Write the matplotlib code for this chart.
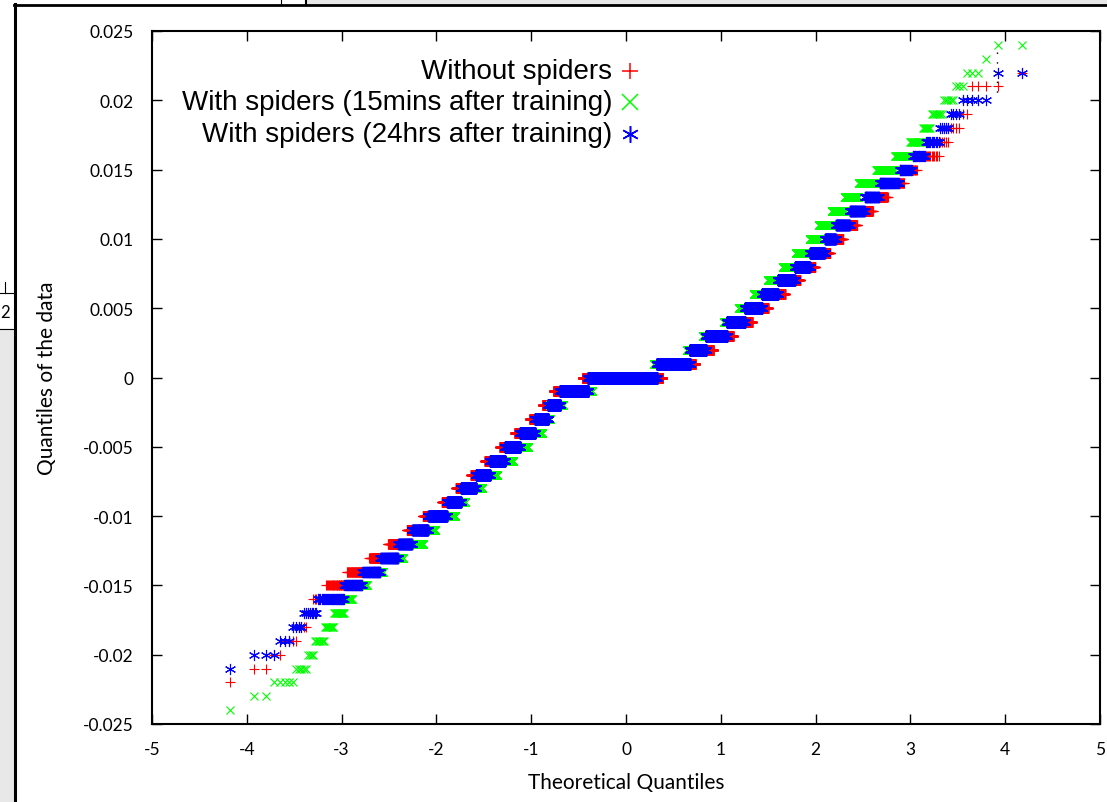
import numpy as np
import matplotlib
matplotlib.use("Agg")
import matplotlib.pyplot as plt
from matplotlib.lines import Line2D
from matplotlib.patches import Rectangle
from statistics import NormalDist

# ---------------- data ----------------
# measured values are quantised to 0.001; counts of observations at each value
levels = np.arange(-24, 25) * 0.001

without_spiders = [0, 0, 1, 2, 2, 4, 4, 3, 10, 28, 61, 90, 150, 194, 340, 351, 495, 593, 797, 983,
                   1183, 1191, 1127, 3444, 10977, 4036, 1836, 1695, 1279, 844, 691, 460, 344, 252,
                   158, 124, 96, 58, 42, 20, 20, 5, 4, 2, 0, 4, 1, 0, 0]
spiders_15min = [1, 2, 5, 5, 4, 8, 10, 15, 17, 41, 70, 141, 231, 198, 465, 309, 669, 762, 1014, 1156,
                 1263, 802, 1421, 3630, 8711, 4213, 1755, 1962, 1156, 957, 728, 620, 421, 351,
                 179, 203, 152, 117, 100, 63, 31, 17, 8, 8, 5, 3, 3, 1, 2]
spiders_24hrs = [0, 0, 0, 1, 3, 3, 4, 8, 31, 42, 69, 114, 133, 217, 379, 387, 540, 643, 858, 1048,
                 1251, 1250, 1287, 3438, 9652, 4149, 1715, 1905, 1314, 986, 723, 582, 380, 280,
                 154, 146, 110, 73, 60, 24, 16, 11, 5, 4, 5, 0, 2, 0, 0]

series_names = ["Without spiders",
                "With spiders (15mins after training)",
                "With spiders (24hrs after training)"]
x_ticks = list(range(-5, 6))
y_tick_labels = ["-0.025", "-0.02", "-0.015", "-0.01", "-0.005", "0",
                 "0.005", "0.01", "0.015", "0.02", "0.025"]

# ---------------- normal QQ computation ----------------
ND = NormalDist()


def qq(counts):
    y = np.repeat(levels, counts)
    n = len(y)
    p = (np.arange(1, n + 1) - 0.5) / n
    x = np.array([ND.inv_cdf(v) for v in p])
    return x, y


# ---------------- figure ----------------
W, H = 1107, 803
fig = plt.figure(figsize=(W / 100, H / 100), dpi=100)
ax = fig.add_axes([152 / W, 1 - 725 / H, 948 / W, 693 / H])


def fx(px):
    return px / W


def fy(py):
    return 1 - py / H


styles = [
    ("#ff0000", "+", 7, 0.8),
    ("#00ff00", "x", 6, 0.8),
    ("#0000ff", (6, 2, 0), 8, 0.8),
]
data = [without_spiders, spiders_15min, spiders_24hrs]
for cnt, (col, mk, ms, mew) in zip(data, styles):
    x, y = qq(cnt)
    ax.plot(x, y, linestyle="none", marker=mk, ms=ms, mew=mew, color=col, zorder=2)

TF = ["Lato", "DejaVu Sans"]
ax.set_xlim(-5, 5)
ax.set_ylim(-0.025, 0.025)
ax.set_xticks(x_ticks)
ax.set_yticks(np.linspace(-0.025, 0.025, len(y_tick_labels)))
ax.set_xticklabels([str(v) for v in x_ticks])
ax.set_yticklabels(y_tick_labels)
for lab in ax.get_xticklabels() + ax.get_yticklabels():
    lab.set_fontfamily(TF)
    lab.set_fontsize(12.5)
ax.tick_params(direction="in", length=7, width=1, top=True, right=True, colors="black")
ax.tick_params(axis="x", pad=12)
ax.tick_params(axis="y", pad=13)
for s in ax.spines.values():
    s.set_linewidth(1.5)
ax.set_xlabel("Theoretical Quantiles", fontsize=15, family=TF, labelpad=11)
ax.set_ylabel("Quantiles of the data", fontsize=15, family=TF, labelpad=19)

# legend (gnuplot style: text right aligned, sample marker to the right)
leg_rows = [72, 103, 135]
for name, (col, mk, ms, mew), ry in zip(series_names, styles, leg_rows):
    fig.text(fx(612), fy(ry), name, ha="right", va="center", fontsize=20,
             family=["Liberation Sans", "DejaVu Sans"])
    fig.add_artist(Line2D([fx(630)], [fy(ry)], marker=mk, ms=12, mew=1.1,
                          color=col, linestyle="none"))

# surrounding window framing seen in the screenshot
fig.add_artist(Rectangle((0, 0), fx(13), fy(330), transform=fig.transFigure,
                         color="#e8e8e8", zorder=0))
fig.add_artist(Rectangle((fx(306), fy(5)), 1 - fx(306), fy(0) - fy(5),
                         transform=fig.transFigure, color="#e8e8e8", zorder=0))
fig.add_artist(Line2D([fx(15), fx(15)], [fy(5), 0], color="black", lw=2.2))
fig.add_artist(Line2D([fx(14), 1], [fy(6), fy(6)], color="black", lw=2.0))
fig.add_artist(Line2D([fx(281), fx(281)], [1, fy(6)], color="black", lw=0.8))
fig.add_artist(Line2D([fx(306), fx(306)], [1, fy(6)], color="black", lw=1.5))
fig.add_artist(Line2D([0, fx(14)], [fy(294), fy(294)], color="black", lw=0.8))
fig.add_artist(Line2D([fx(5), fx(5)], [fy(283), fy(294)], color="black", lw=0.8))
fig.add_artist(Line2D([0, fx(14)], [fy(330), fy(330)], color="black", lw=0.8))
fig.text(fx(5), fy(313), "2", ha="center", va="center", fontsize=12, family=TF)
fig.add_artist(Line2D([fx(997), fx(997)], [fy(53), fy(98)], color="black", lw=1.0,
                      linestyle=(0, (1, 6))))

fig.savefig("out.png", dpi=100)
